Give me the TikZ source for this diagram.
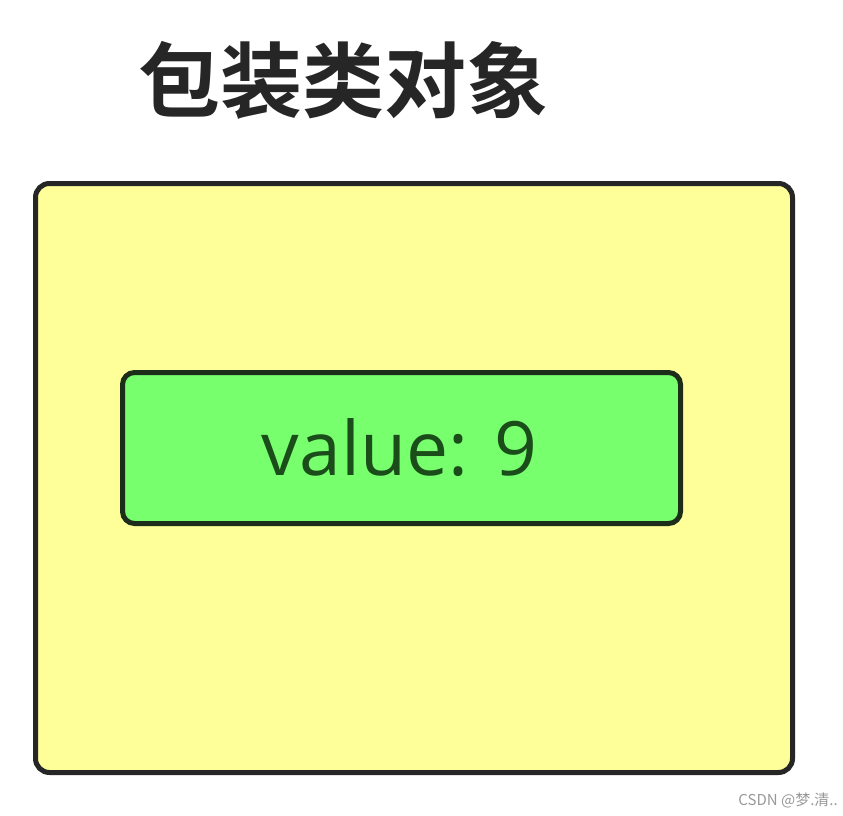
\documentclass[tikz,border=0pt]{standalone}
\usepackage{fontspec}
\setmainfont{Open Sans}
\newfontfamily\cjk{Noto Sans CJK SC}
\newfontfamily\cjkbold{Noto Sans CJK SC Bold}
\definecolor{outerfill}{HTML}{FFFF99}
\definecolor{innerfill}{HTML}{77FF6E}
\definecolor{outerline}{HTML}{262626}
\definecolor{innerline}{HTML}{1C2E1A}
\definecolor{valtext}{HTML}{1B4D1B}
\tikzset{
  outerbox/.style={draw=outerline, fill=outerfill, line width=5pt, rounded corners=14pt},
  innerbox/.style={draw=innerline, fill=innerfill, line width=5pt, rounded corners=12pt},
}
\begin{document}
\begin{tikzpicture}[x=1pt,y=1pt]
\useasboundingbox (0,0) rectangle (843,-816);
\fill[white] (0,0) rectangle (843,-816);
\node[outerbox, minimum width=757pt, minimum height=589pt, anchor=north west] (outer) at (33,-181) {};
\node[innerbox, minimum width=558pt, minimum height=151pt, anchor=north west] (inner) at (120,-370) {};
\node[text=valtext, font=\fontsize{75}{85}\selectfont, inner sep=0pt] (val) at ([xshift=-2pt]inner.center) {value: 9};
\node[text=black!85, font=\cjkbold\fontsize{82}{90}\selectfont, inner sep=0pt] (title) at (343,-80) {包装类对象};
\node[text=black!40, font=\cjk\fontsize{15}{17}\selectfont, inner sep=0pt, anchor=east] (wm) at (838,-800) {CSDN @梦.清..};
\end{tikzpicture}
\end{document}
